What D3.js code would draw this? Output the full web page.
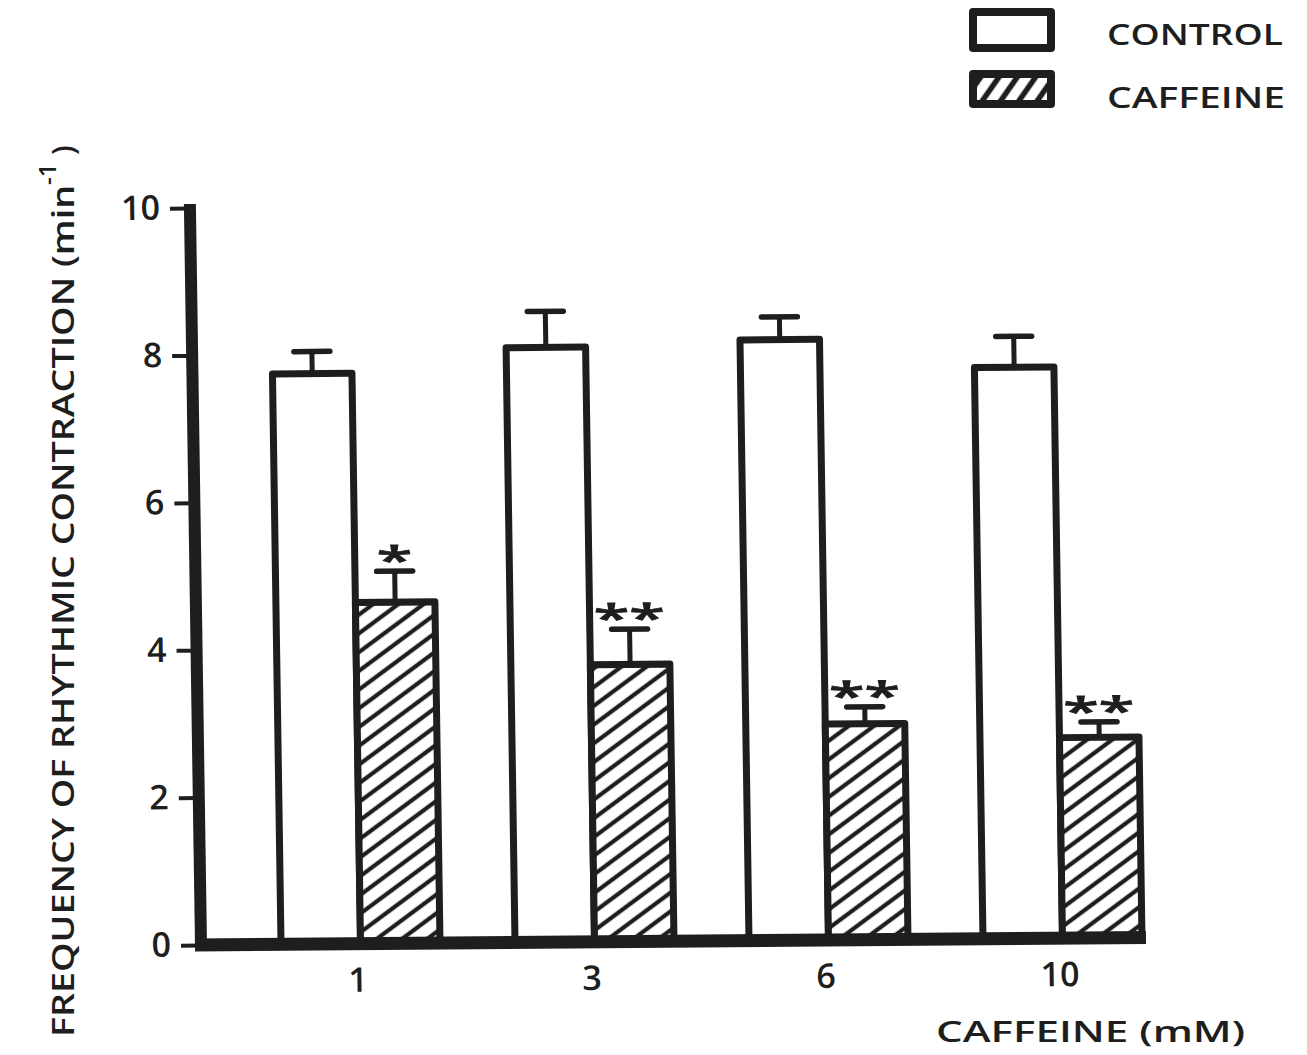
<!DOCTYPE html>
<html>
<head>
<meta charset="utf-8">
<script src="https://cdn.jsdelivr.net/npm/d3@7"></script>
<style>
  html, body { margin: 0; padding: 0; background: #fff; }
  text { font-family: "Open Sans", "Liberation Sans", sans-serif; font-weight: 600; }
</style>
</head>
<body>
<div id="chart"></div>
<script>
// data
const categories = ['1', '3', '6', '10'];
const seriesNames = ['CONTROL', 'CAFFEINE'];
const controlValues = [7.74, 8.07, 8.15, 7.75];
const controlSem = [0.30, 0.49, 0.31, 0.42];
const caffeineValues = [4.63, 3.76, 2.93, 2.72];
const caffeineSem = [0.42, 0.48, 0.23, 0.21];
const significance = ['*', '**', '**', '**'];
const yTicks = [0, 2, 4, 6, 8, 10];
const yLabel = 'FREQUENCY OF RHYTHMIC CONTRACTION (min';
const yLabelSup = '-1';
const xLabel = 'CAFFEINE (mM)';

const ink = '#1e1e1e';
const width = 1307, height = 1055;

const rows = categories.map((c, i) => ({
  cat: c,
  sig: significance[i],
  values: [
    { key: 'CONTROL', v: controlValues[i], sem: controlSem[i] },
    { key: 'CAFFEINE', v: caffeineValues[i], sem: caffeineSem[i] }
  ]
}));

const svg = d3.select('#chart').append('svg')
  .attr('width', width)
  .attr('height', height);

svg.append('rect').attr('width', width).attr('height', height).attr('fill', '#fff');

// hatch patterns
const defs = svg.append('defs');
function hatch(id, size, lw, angle) {
  const p = defs.append('pattern')
    .attr('id', id)
    .attr('patternUnits', 'userSpaceOnUse')
    .attr('width', size)
    .attr('height', size)
    .attr('patternTransform', `rotate(${angle})`);
  p.append('rect').attr('width', size).attr('height', size).attr('fill', '#fff');
  p.append('line')
    .attr('x1', size / 2).attr('x2', size / 2)
    .attr('y1', 0).attr('y2', size)
    .attr('stroke', ink).attr('stroke-width', lw);
}
hatch('hatch-bar', 15, 4.2, 54);
hatch('hatch-legend', 15, 5.5, 35);

// the scanned figure is a little skewed, so the plot frame is too
const g = svg.append('g')
  .attr('transform', 'translate(201,945)')
  .append('g')
  .attr('transform', 'matrix(1,-0.008,0.015,1,0,0)');

const x0 = d3.scaleBand()
  .domain(categories)
  .range([0, 1021])
  .paddingInner(0.3205)
  .paddingOuter(0.342);

const x1 = d3.scaleBand()
  .domain(seriesNames)
  .range([0, x0.bandwidth()]);

const y = d3.scaleLinear()
  .domain([0, 10])
  .range([0, -737]);

// bars
const groups = g.selectAll('.grp')
  .data(rows)
  .enter()
  .append('g')
  .attr('class', 'grp')
  .attr('transform', d => `translate(${x0(d.cat)},0)`);

groups.selectAll('rect.bar')
  .data(d => d.values)
  .enter()
  .append('rect')
  .attr('class', 'bar')
  .attr('x', d => x1(d.key))
  .attr('y', d => y(d.v))
  .attr('width', x1.bandwidth())
  .attr('height', d => y(0) - y(d.v))
  .attr('fill', d => d.key === 'CONTROL' ? '#fff' : 'url(#hatch-bar)')
  .attr('stroke', ink)
  .attr('stroke-width', 7)
  .attr('stroke-linejoin', 'round');

// error bars (SEM, upper only)
const capHalf = 18;
groups.selectAll('line.err')
  .data(d => d.values)
  .enter()
  .append('line')
  .attr('class', 'err')
  .attr('x1', d => x1(d.key) + x1.bandwidth() / 2)
  .attr('x2', d => x1(d.key) + x1.bandwidth() / 2)
  .attr('y1', d => y(d.v))
  .attr('y2', d => y(d.v + d.sem))
  .attr('stroke', ink)
  .attr('stroke-width', 5);

groups.selectAll('line.cap')
  .data(d => d.values)
  .enter()
  .append('line')
  .attr('class', 'cap')
  .attr('x1', d => x1(d.key) + x1.bandwidth() / 2 - capHalf)
  .attr('x2', d => x1(d.key) + x1.bandwidth() / 2 + capHalf)
  .attr('y1', d => y(d.v + d.sem))
  .attr('y2', d => y(d.v + d.sem))
  .attr('stroke', ink)
  .attr('stroke-width', 5.5)
  .attr('stroke-linecap', 'round');

// significance stars above caffeine bars
groups.append('g')
  .attr('transform', d => {
    const c = d.values[1];
    return `translate(${x1('CAFFEINE') + x1.bandwidth() / 2},${y(c.v + c.sem) + 3}) scale(1.35,0.8)`;
  })
  .append('text')
  .attr('text-anchor', 'middle')
  .attr('font-size', 48)
  .attr('fill', ink)
  .attr('stroke', ink)
  .attr('stroke-width', 1)
  .text(d => d.sig);

// y axis
g.append('line')
  .attr('x1', 0).attr('x2', 0)
  .attr('y1', y(0) + 6)
  .attr('y2', y(10) - 4)
  .attr('stroke', ink)
  .attr('stroke-width', 12);

const yAxis = g.append('g')
  .call(d3.axisLeft(y).tickValues(yTicks).tickSize(20).tickPadding(10).tickFormat(d3.format('d')));
yAxis.select('.domain').remove();
yAxis.selectAll('line').attr('stroke', ink).attr('stroke-width', 4);
yAxis.selectAll('text')
  .attr('fill', ink)
  .style('font-size', '34px')
  .style('font-family', '"Open Sans", sans-serif')
  .style('font-weight', 600);

// x baseline
const lastCat = categories[categories.length - 1];
g.append('line')
  .attr('x1', -6)
  .attr('x2', x0(lastCat) + x0.bandwidth() + 4)
  .attr('y1', y(0)).attr('y2', y(0))
  .attr('stroke', ink)
  .attr('stroke-width', 13);

// category labels
g.selectAll('.cat-label')
  .data(categories)
  .enter()
  .append('text')
  .attr('class', 'cat-label')
  .attr('x', d => x0(d) + x0.bandwidth() / 2 - 3)
  .attr('y', 48)
  .attr('text-anchor', 'middle')
  .attr('font-size', 34)
  .attr('fill', ink)
  .text(d => d);

// x title
svg.append('text')
  .attr('x', 1245)
  .attr('y', 1042)
  .attr('text-anchor', 'end')
  .attr('font-size', 29)
  .attr('fill', ink)
  .attr('textLength', 309)
  .attr('lengthAdjust', 'spacingAndGlyphs')
  .text(xLabel);

// y title
const yt = svg.append('g').attr('transform', 'translate(74,1037) rotate(-90)');
yt.append('text')
  .attr('x', 0).attr('y', 0)
  .attr('font-size', 31)
  .attr('fill', ink)
  .attr('textLength', 852)
  .attr('lengthAdjust', 'spacingAndGlyphs')
  .text(yLabel);
yt.append('text')
  .attr('x', 852).attr('y', -18)
  .attr('font-size', 24)
  .attr('fill', ink)
  .text(yLabelSup);
yt.append('text')
  .attr('x', 882).attr('y', 0)
  .attr('font-size', 31)
  .attr('fill', ink)
  .text(')');

// legend
const legend = svg.append('g').attr('class', 'legend');
const legendItems = [
  { key: 'CONTROL', fill: '#fff', ry: 12, rh: 36, ty: 45 },
  { key: 'CAFFEINE', fill: 'url(#hatch-legend)', ry: 74, rh: 30, ty: 108 }
];
legend.selectAll('rect')
  .data(legendItems)
  .enter()
  .append('rect')
  .attr('x', 973)
  .attr('y', d => d.ry)
  .attr('width', 78)
  .attr('height', d => d.rh)
  .attr('fill', d => d.fill)
  .attr('stroke', ink)
  .attr('stroke-width', 8)
  .attr('stroke-linejoin', 'round');
legend.selectAll('text')
  .data(legendItems)
  .enter()
  .append('text')
  .attr('x', 1107)
  .attr('y', d => d.ty)
  .attr('font-size', 29)
  .attr('fill', ink)
  .attr('textLength', d => d.key === 'CONTROL' ? 176 : 178)
  .attr('lengthAdjust', 'spacingAndGlyphs')
  .text(d => d.key);
</script>
</body>
</html>
